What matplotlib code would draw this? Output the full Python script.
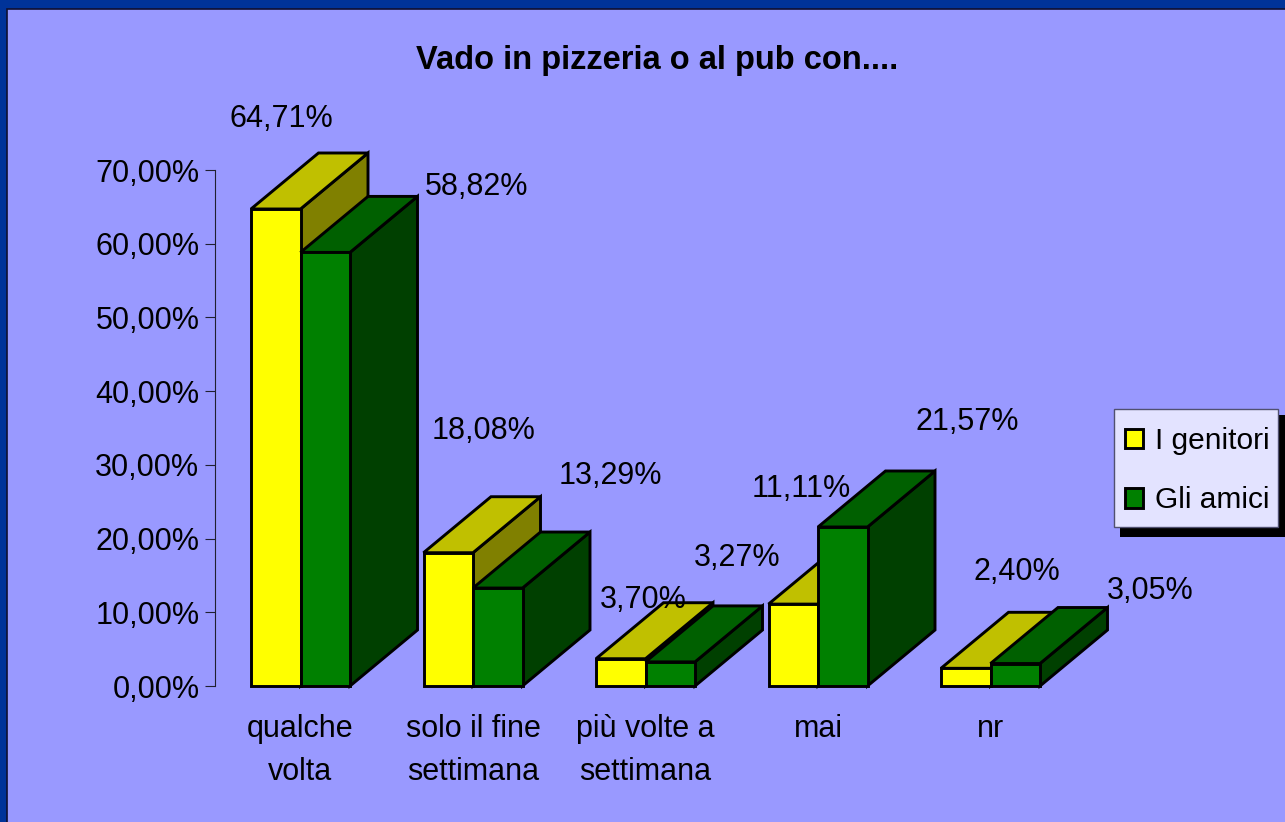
import matplotlib
matplotlib.use("Agg")
import matplotlib.pyplot as plt
from matplotlib.patches import Patch, Rectangle

categories = ["qualche\nvolta", "solo il fine\nsettimana", "più volte a\nsettimana", "mai", "nr"]
series_names = ["I genitori", "Gli amici"]
genitori = [64.71, 18.08, 3.70, 11.11, 2.40]
amici = [58.82, 13.29, 3.27, 21.57, 3.05]
yticks = [0, 10, 20, 30, 40, 50, 60, 70]
title = "Vado in pizzeria o al pub con...."

W, H = 1285, 822
plt.rcParams["font.family"] = ["Liberation Sans", "DejaVu Sans"]
FS = 22
fig = plt.figure(figsize=(W / 100, H / 100), dpi=100, facecolor="#003399")

fig.add_artist(Rectangle((7 / W, -5 / H), (W - 7 + 5) / W, (H - 9 + 5) / H, transform=fig.transFigure,
                         facecolor="#9999FF", edgecolor="#101030", linewidth=1.2, zorder=-5))

LEFT, RIGHT, TOP, BOTTOM = 215, 1110, 170, 686
ax = fig.add_axes([LEFT / W, 1 - BOTTOM / H, (RIGHT - LEFT) / W, (BOTTOM - TOP) / H])
ax.patch.set_alpha(0)
STEP = 172.5
ax.set_xlim((LEFT - 251) / STEP, (RIGHT - 251) / STEP)
ax.set_ylim(0, 70)

bw = 49.5 / STEP
dx = 67.5 / STEP
dy = 56 / ((BOTTOM - TOP) / 70)
LW = 2.1


def bar3d(x, v, front, top, side):
    kw = dict(edgecolor="black", linewidth=LW, joinstyle="miter", clip_on=False)
    ax.fill([x + bw, x + bw + dx, x + bw + dx, x + bw], [0, dy, v + dy, v], facecolor=side, **kw)
    ax.fill([x, x + dx, x + bw + dx, x + bw], [v, v + dy, v + dy, v], facecolor=top, **kw)
    ax.fill([x, x + bw, x + bw, x], [0, 0, v, v], facecolor=front, **kw)


for i, (a, b) in enumerate(zip(genitori, amici)):
    bar3d(i, a, "#FFFF00", "#C0C000", "#808000")
    bar3d(i + bw, b, "#008000", "#006000", "#004000")

# label offsets from each bar's front top-left corner, in pixels
off_gen = [(30, 89.5), (60, 121.5), (47, 58.5), (33, 115.5), (76, 96.5)]
off_ami = [(176, 65.5), (137.5, 112.5), (91.5, 103.5), (149.5, 104.5), (159.5, 73)]


def label(x, v, off):
    ax.annotate(f"{v:.2f}%".replace(".", ","), (x, v), xytext=(off[0] * .72, off[1] * .72),
                textcoords="offset points", ha="center", va="center", fontsize=FS, color="black",
                annotation_clip=False, zorder=5)


for i in range(len(categories)):
    label(i, genitori[i], off_gen[i])
    label(i + bw, amici[i], off_ami[i])

for s in ["top", "right", "bottom"]:
    ax.spines[s].set_visible(False)
ax.spines["left"].set_linewidth(0.8)
ax.spines["left"].set_color("#202030")
ax.set_yticks(yticks)
ax.set_yticklabels([f"{t:.2f}%".replace(".", ",") for t in yticks], fontsize=FS)
ax.tick_params(axis="y", length=7.2, width=0.8, color="#202030", pad=4)
ax.set_xticks([i + bw for i in range(len(categories))])
ax.set_xticklabels(categories, fontsize=FS, linespacing=1.57)
ax.tick_params(axis="x", length=0, pad=20)

fig.text(657 / W, 1 - 60 / H, title, ha="center", va="center", fontsize=23.5,
         fontweight="bold", color="black")

# legend frame and its drop shadow
fig.add_artist(Rectangle((1120 / W, 1 - 537 / H), 170 / W, 122 / H, transform=fig.transFigure,
                         facecolor="black", edgecolor="none", zorder=8))
fig.add_artist(Rectangle((1113.5 / W, 1 - 527 / H), 164.5 / W, 118 / H, transform=fig.transFigure,
                         facecolor="#E3E3FF", edgecolor="#505070", linewidth=1.0, zorder=9))
handles = [Patch(facecolor="#FFFF00", edgecolor="black", linewidth=LW),
           Patch(facecolor="#008000", edgecolor="black", linewidth=LW)]
leg = fig.legend(handles, series_names, loc="upper left", bbox_to_anchor=(1125 / W, 1 - 427 / H),
                 bbox_transform=fig.transFigure, fontsize=21.5, frameon=False, borderaxespad=0,
                 borderpad=0, handlelength=0.6, handleheight=0.65, handletextpad=0.4,
                 labelspacing=1.05)
leg.set_zorder(10)

fig.savefig("out.png", dpi=100, facecolor=fig.get_facecolor())
